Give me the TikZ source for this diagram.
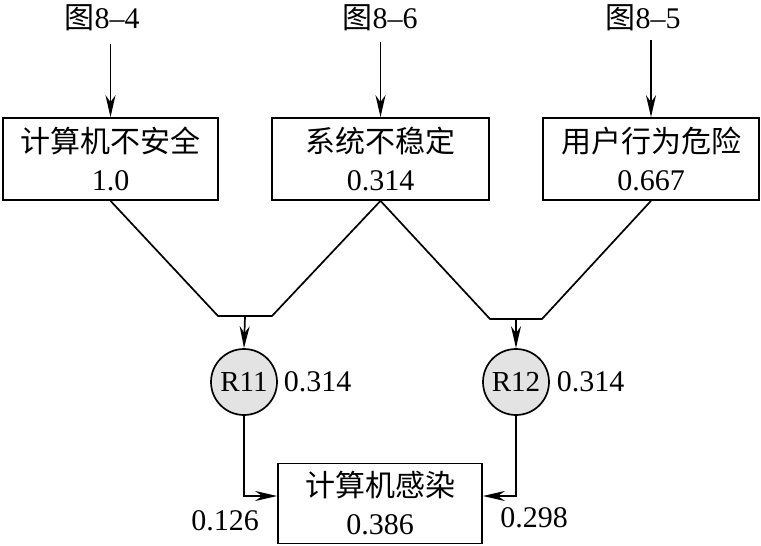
\documentclass[tikz,border=0pt]{standalone}
\usepackage{fontspec}
\setmainfont{Liberation Serif}
\newfontfamily\cjk{Noto Sans CJK SC}
\usetikzlibrary{arrows.meta}
\begin{document}
\begin{tikzpicture}[x=1pt,y=-1pt, line width=1.7pt, line join=miter,
 box/.style={draw, minimum width=215pt, minimum height=82pt, align=center, inner sep=0pt, font=\fontsize{30}{38}\selectfont},
 circ/.style={circle, draw, fill=gray!22, minimum size=66pt, inner sep=0pt, font=\fontsize{29}{30}\selectfont},
 lab/.style={font=\fontsize{30}{36}\selectfont, inner sep=0pt},
 arr/.style={-{Stealth[length=22pt,width=10pt,inset=7pt]}},
]
\useasboundingbox (0,0) rectangle (761,546);
\node[lab] (t1) at (102,18) {{\cjk 图}8–4};
\node[lab] (t2) at (380,18) {{\cjk 图}8–6};
\node[lab] (t3) at (643,18) {{\cjk 图}8–5};
\node[box] (b1) at (110.5,159) {{\cjk 计算机不安全}\\1.0};
\node[box, minimum width=217pt] (b2) at (380.5,159) {{\cjk 系统不稳定}\\0.314};
\node[box, minimum width=216pt] (b3) at (651,159) {{\cjk 用户行为危险}\\0.667};
\node[box, minimum width=204pt, minimum height=80pt] (b4) at (380,503.5) {{\cjk 计算机感染}\\0.386};
\node[circ] (r11) at (244,382) {R11};
\node[circ] (r12) at (516,382) {R12};
\node[lab, anchor=west] (v11) at (283,382) {0.314};
\node[lab, anchor=west] (v12) at (556,382) {0.314};
\node[lab] (w1) at (225,521) {0.126};
\node[lab] (w2) at (534,518) {0.298};
\coordinate (j1a) at (218,316);
\coordinate (j1b) at (272,316);
\coordinate (j1) at (245,316);
\coordinate (j2a) at (490,319);
\coordinate (j2b) at (542,319);
\coordinate (j2) at (516,319);
\draw[arr] ([yshift=-12pt]t1.south -| b1.north) -- (b1.north);
\draw[arr] ([yshift=-10pt]t2.south -| b2.north) -- (b2.north);
\draw[arr] ([yshift=-8pt]t3.south -| b3.north) -- (b3.north);
\draw (b1.south) -- (j1a) -- (j1b) -- (b2.south) -- (j2a) -- (j2b) -- (b3.south);
\draw[arr] (j1) -- (r11.north);
\draw[arr] (j2) -- (r12.north);
\draw[arr] (r11.south) |- ([yshift=7.5pt]b4.west);
\draw[arr] (r12.south) |- ([yshift=7.5pt]b4.east);
\end{tikzpicture}
\end{document}
